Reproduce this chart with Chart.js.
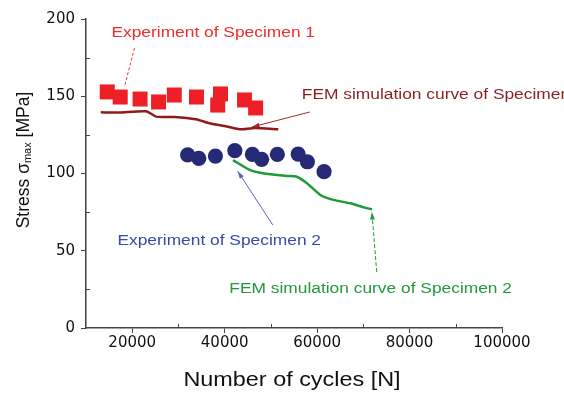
<!DOCTYPE html>
<html>
<head>
<meta charset="utf-8">
<script src="https://cdn.jsdelivr.net/npm/chart.js@4"></script>
<style>
    html, body { margin: 0; padding: 0; background: #fff; }
    #wrap { width: 564px; height: 396px; }
</style>
</head>
<body>
<div id="wrap"><canvas id="myChart" width="564" height="396"></canvas></div>
<script>
// =====================
// Data
// =====================
const spec1Cycles = [14600, 17400, 21700, 25700, 29100, 33900, 39100, 38500, 44300, 46700];
const spec1Stress = [152.8, 149.5, 148.2, 146.3, 150.8, 149.5, 151.5, 144.3, 147.6, 142.4];

const spec2Cycles = [32000, 34400, 38000, 42200, 46000, 48000, 51400, 55900, 57900, 61500];
const spec2Stress = [112.0, 109.8, 111.3, 114.8, 112.4, 109.2, 112.4, 112.6, 107.6, 101.2];

const fem1Cycles = [13200, 17200, 23000, 25200, 29100, 33800, 36700, 40000, 42900, 43900, 46500, 51600];
const fem1Stress = [139.6, 139.5, 140.3, 136.8, 136.6, 135.1, 132.5, 130.7, 128.8, 128.6, 129.4, 128.6];

const fem2Cycles = [41800, 45400, 48300, 53400, 55600, 57800, 60700, 63500, 67200, 70100, 71900];
const fem2Stress = [108.7, 102.3, 100.1, 98.4, 97.9, 93.7, 86.1, 82.9, 80.7, 78.1, 76.8];

const xTickLabels = [20000, 40000, 60000, 80000, 100000];
const yTickLabels = [0, 50, 100, 150, 200];

const FONT = "'Liberation Sans', Arial, sans-serif";
const TICK_FONT = "'DejaVu Sans', sans-serif";

// annotation texts and arrows, anchored in data units
const notes = [
    {text: 'Experiment of Specimen 1', x: 15500, y: 190.9, color: '#ef2b2b'},
    {text: 'FEM simulation curve of Specimen 1', x: 56700, y: 150.8, color: '#8a1f1f'},
    {text: 'Experiment of Specimen 2', x: 16800, y: 56.3, color: '#3949a9'},
    {text: 'FEM simulation curve of Specimen 2', x: 41000, y: 25.2, color: '#22983c'}
];
const arrows = [
    {from: [20500, 181.2], to: [18300, 156.0], color: '#ee3a3a', dash: [3, 2], head: false},
    {from: [58400, 139.8], to: [45900, 130.1], color: '#9a3030', dash: [], head: true},
    {from: [50400, 66.7], to: [42800, 101.6], color: '#5a64c0', dash: [], head: true},
    {from: [72900, 36.2], to: [71850, 75.1], color: '#22983c', dash: [4, 2], head: true}
];

function toPoints(xs, ys) {
    return xs.map((x, i) => ({x: x, y: ys[i]}));
}

// the original's lettering is a bit wider than Arial, so stretch it a little
function stretchedText(ctx, text, x, y, font, sx, align) {
    ctx.save();
    ctx.font = font;
    ctx.textBaseline = 'middle';
    ctx.textAlign = 'left';
    const w = ctx.measureText(text).width * sx;
    const left = align === 'center' ? x - w / 2 : x;
    ctx.translate(left, y);
    ctx.scale(sx, 1);
    ctx.fillText(text, 0, 0);
    ctx.restore();
}

// =====================
// Plugin: minor ticks, axis titles, annotations
// =====================
const extras = {
    id: 'extras',
    afterDraw(chart) {
        const ctx = chart.ctx;
        const xs = chart.scales.x;
        const ys = chart.scales.y;
        const area = chart.chartArea;

        // minor ticks point into the plot
        ctx.save();
        ctx.strokeStyle = '#444';
        ctx.lineWidth = 1;
        for (let v = 30000; v < 100000; v += 20000) {
            const px = Math.round(xs.getPixelForValue(v)) + 0.5;
            ctx.beginPath();
            ctx.moveTo(px, area.bottom);
            ctx.lineTo(px, area.bottom - 4);
            ctx.stroke();
        }
        for (let v = 25; v < 200; v += 50) {
            const py = Math.round(ys.getPixelForValue(v)) + 0.5;
            ctx.beginPath();
            ctx.moveTo(area.left, py);
            ctx.lineTo(area.left + 4, py);
            ctx.stroke();
        }
        ctx.restore();

        // x axis title
        ctx.fillStyle = '#111';
        stretchedText(ctx, 'Number of cycles [N]', (area.left + area.right) / 2 - 2, 381,
            '19.5px ' + FONT, 1.2, 'center');

        // y axis title: Stress σ_max [MPa]
        ctx.save();
        ctx.translate(24, 160);
        ctx.rotate(-Math.PI / 2);
        ctx.fillStyle = '#111';
        ctx.textBaseline = 'middle';
        const big = '17.5px ' + FONT;
        const small = '11px ' + FONT;
        ctx.font = big;
        const w1 = ctx.measureText('Stress σ').width;
        ctx.font = small;
        const w2 = ctx.measureText('max').width;
        ctx.font = big;
        const w3 = ctx.measureText(' [MPa]').width;
        let start = -(w1 + w2 + w3) / 2;
        ctx.textAlign = 'left';
        ctx.fillText('Stress σ', start, 0);
        ctx.font = small;
        ctx.fillText('max', start + w1, 4);
        ctx.font = big;
        ctx.fillText(' [MPa]', start + w1 + w2, 0);
        ctx.restore();

        // arrows
        arrows.forEach(a => {
            const x1 = xs.getPixelForValue(a.from[0]), y1 = ys.getPixelForValue(a.from[1]);
            const x2 = xs.getPixelForValue(a.to[0]), y2 = ys.getPixelForValue(a.to[1]);
            ctx.save();
            ctx.strokeStyle = a.color;
            ctx.fillStyle = a.color;
            ctx.lineWidth = 1;
            ctx.setLineDash(a.dash);
            ctx.beginPath();
            ctx.moveTo(x1, y1);
            ctx.lineTo(x2, y2);
            ctx.stroke();
            if (a.head) {
                const ang = Math.atan2(y2 - y1, x2 - x1);
                ctx.setLineDash([]);
                ctx.beginPath();
                ctx.moveTo(x2, y2);
                ctx.lineTo(x2 - 8 * Math.cos(ang - 0.3), y2 - 8 * Math.sin(ang - 0.3));
                ctx.lineTo(x2 - 8 * Math.cos(ang + 0.3), y2 - 8 * Math.sin(ang + 0.3));
                ctx.closePath();
                ctx.fill();
            }
            ctx.restore();
        });

        // annotation texts
        notes.forEach(n => {
            ctx.fillStyle = n.color;
            stretchedText(ctx, n.text, xs.getPixelForValue(n.x), ys.getPixelForValue(n.y),
                '15.5px ' + FONT, 1.12, 'left');
        });
    }
};

// =====================
// Chart
// =====================
const ctx = document.getElementById('myChart').getContext('2d');
const chart = new Chart(ctx, {
    type: 'scatter',
    data: {
        datasets: [
            {
                label: 'FEM simulation curve of Specimen 1',
                data: toPoints(fem1Cycles, fem1Stress),
                showLine: true,
                borderColor: '#8e1b1b',
                borderWidth: 2.5,
                pointRadius: 0,
                tension: 0.2
            },
            {
                label: 'FEM simulation curve of Specimen 2',
                data: toPoints(fem2Cycles, fem2Stress),
                showLine: true,
                borderColor: '#1f9a3a',
                borderWidth: 2.5,
                pointRadius: 0,
                tension: 0.2
            },
            {
                label: 'Experiment of Specimen 1',
                data: toPoints(spec1Cycles, spec1Stress),
                pointStyle: 'rect',
                pointRadius: 10.6,
                backgroundColor: '#ee1f26',
                borderColor: '#ee1f26',
                borderWidth: 0
            },
            {
                label: 'Experiment of Specimen 2',
                data: toPoints(spec2Cycles, spec2Stress),
                pointStyle: 'circle',
                pointRadius: 7.6,
                backgroundColor: '#262a76',
                borderColor: '#262a76',
                borderWidth: 0
            }
        ]
    },
    options: {
        responsive: false,
        animation: false,
        events: [],
        layout: {padding: {top: 19, right: 62, left: 0, bottom: 0}},
        plugins: {
            legend: {display: false},
            tooltip: {enabled: false}
        },
        scales: {
            x: {
                type: 'linear',
                min: 10000,
                max: 100000,
                afterFit: s => { s.height = 68; },
                border: {display: true, color: '#444', width: 1.5},
                grid: {
                    drawOnChartArea: false,
                    drawTicks: true,
                    tickLength: 5,
                    tickColor: c => xTickLabels.includes(c.tick && c.tick.value) ? '#444' : 'rgba(0,0,0,0)'
                },
                ticks: {
                    stepSize: 10000,
                    padding: 1,
                    color: '#111',
                    maxRotation: 0,
                    autoSkip: false,
                    font: {family: TICK_FONT, size: 15},
                    callback: v => xTickLabels.includes(v) ? String(v) : ''
                }
            },
            y: {
                type: 'linear',
                min: 0,
                max: 200,
                afterFit: s => { s.width = 86; },
                border: {display: true, color: '#444', width: 1.5},
                grid: {
                    drawOnChartArea: false,
                    drawTicks: true,
                    tickLength: 5,
                    tickColor: c => yTickLabels.includes(c.tick && c.tick.value) ? '#444' : 'rgba(0,0,0,0)'
                },
                ticks: {
                    stepSize: 25,
                    padding: 6,
                    color: '#111',
                    autoSkip: false,
                    font: {family: TICK_FONT, size: 15},
                    callback: v => yTickLabels.includes(v) ? String(v) : ''
                }
            }
        }
    },
    plugins: [extras]
});
</script>
</body>
</html>
